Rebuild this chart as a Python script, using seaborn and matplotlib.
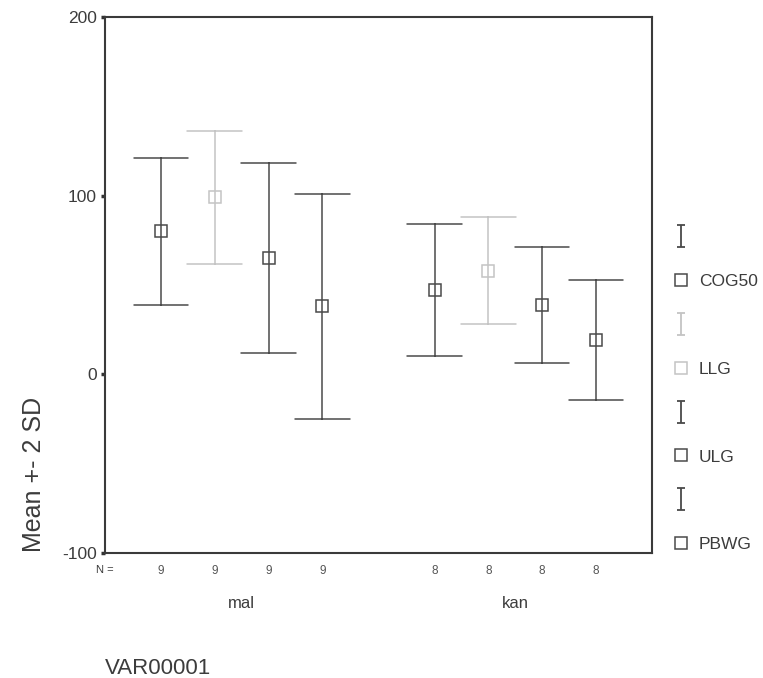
import numpy as np
import pandas as pd
import matplotlib.pyplot as plt
from matplotlib.lines import Line2D
from matplotlib.path import Path
import seaborn as sns

# values (mean and SD, bars show mean +- 2 SD)
groups = ["mal", "kan"]
series = ["COG50", "LLG", "ULG", "PBWG"]
n_counts = [9, 8]
mean_mal = [80, 99, 65, 38]
sd_mal = [20.5, 18.5, 26.5, 31.5]
mean_kan = [47, 58, 39, 19]
sd_kan = [18.5, 15.0, 16.25, 16.75]

colors = ["#4a4a4a", "#c4c4c4", "#4a4a4a", "#4a4a4a"]
text_col = "#3c3c3c"

# long form: lower, mean, upper for each cell -> median + full range
rows = []
for g, means, sds in [("mal", mean_mal, sd_mal), ("kan", mean_kan, sd_kan)]:
    for s, m, sd in zip(series, means, sds):
        for v in (m - 2 * sd, m, m + 2 * sd):
            rows.append({"VAR00001": g, "series": s, "value": v})
df = pd.DataFrame(rows)

sns.set_theme(style="white")
plt.rcParams["font.family"] = ["Liberation Sans", "DejaVu Sans"]
plt.rcParams["axes.unicode_minus"] = False

fig = plt.figure(figsize=(7.63, 6.78), dpi=100)
ax = fig.add_axes([0.1376, 0.1844, 0.7169, 0.7906])

dodge = 0.59
sns.pointplot(data=df, x="VAR00001", y="value", hue="series", order=groups,
              hue_order=series, palette=colors, estimator="median",
              errorbar=("pi", 100), dodge=dodge, linestyle="none",
              markers="s", capsize=0.2, err_kws={"linewidth": 1.1},
              markersize=8.5, markeredgewidth=1.1, ax=ax, legend=False)
for ln in ax.lines:
    ln.set_markerfacecolor("none")

ax.set_xlim(-0.5, 1.5)
ax.set_ylim(-100, 200)
ax.set_yticks([-100, 0, 100, 200])
ax.set_ylabel("Mean +- 2 SD", fontsize=18, color=text_col)
ax.yaxis.set_label_coords(-0.108, 0.146)
ax.set_xlabel("")
ax.set_xticks([0, 1])
ax.set_xticklabels(groups)
ax.tick_params(axis="x", length=3, width=2.5, color="#333333", pad=28,
               labelsize=12, labelcolor=text_col)
ax.tick_params(axis="y", length=3, width=2.5, color="#333333", pad=3,
               labelsize=12.5, labelcolor=text_col, left=True)
for sp in ax.spines.values():
    sp.set_color("#3a3a3a")
    sp.set_linewidth(1.5)

# N = row
offsets = np.linspace(-dodge / 2, dodge / 2, len(series))
trans = ax.get_xaxis_transform()
ax.text(-0.5, -0.023, "N =", transform=trans, ha="center", va="top",
        fontsize=8, color=text_col)
for gi, n in enumerate(n_counts):
    for off in offsets:
        ax.text(gi + off, -0.023, str(n), transform=trans, ha="center",
                va="top", fontsize=8.5, color="#555555")

fig.text(0.138, 0.0065, "VAR00001", fontsize=16, color=text_col, ha="left",
         va="baseline")

# SPSS style legend: error bar symbol, then marker with name
ibeam = Path([(-0.36, 1), (0.36, 1), (0, 1), (0, -1), (-0.36, -1), (0.36, -1)],
             [Path.MOVETO, Path.LINETO, Path.MOVETO, Path.LINETO,
              Path.MOVETO, Path.LINETO])
handles, labels = [], []
for s, c in zip(series, colors):
    handles.append(Line2D([], [], color=c, marker=ibeam, linestyle="none",
                          markersize=16, markeredgewidth=1.3))
    labels.append("")
    handles.append(Line2D([], [], color=c, marker="s", linestyle="none",
                          markersize=8, markerfacecolor="none",
                          markeredgewidth=1.1))
    labels.append(s)
fig.legend(handles, labels, loc="upper left", bbox_to_anchor=(0.867, 0.673),
           frameon=False, fontsize=12.5, labelspacing=1.65, handlelength=1.2,
           handletextpad=0.45, borderpad=0, labelcolor=text_col)

fig.savefig("out.png", dpi=100)
